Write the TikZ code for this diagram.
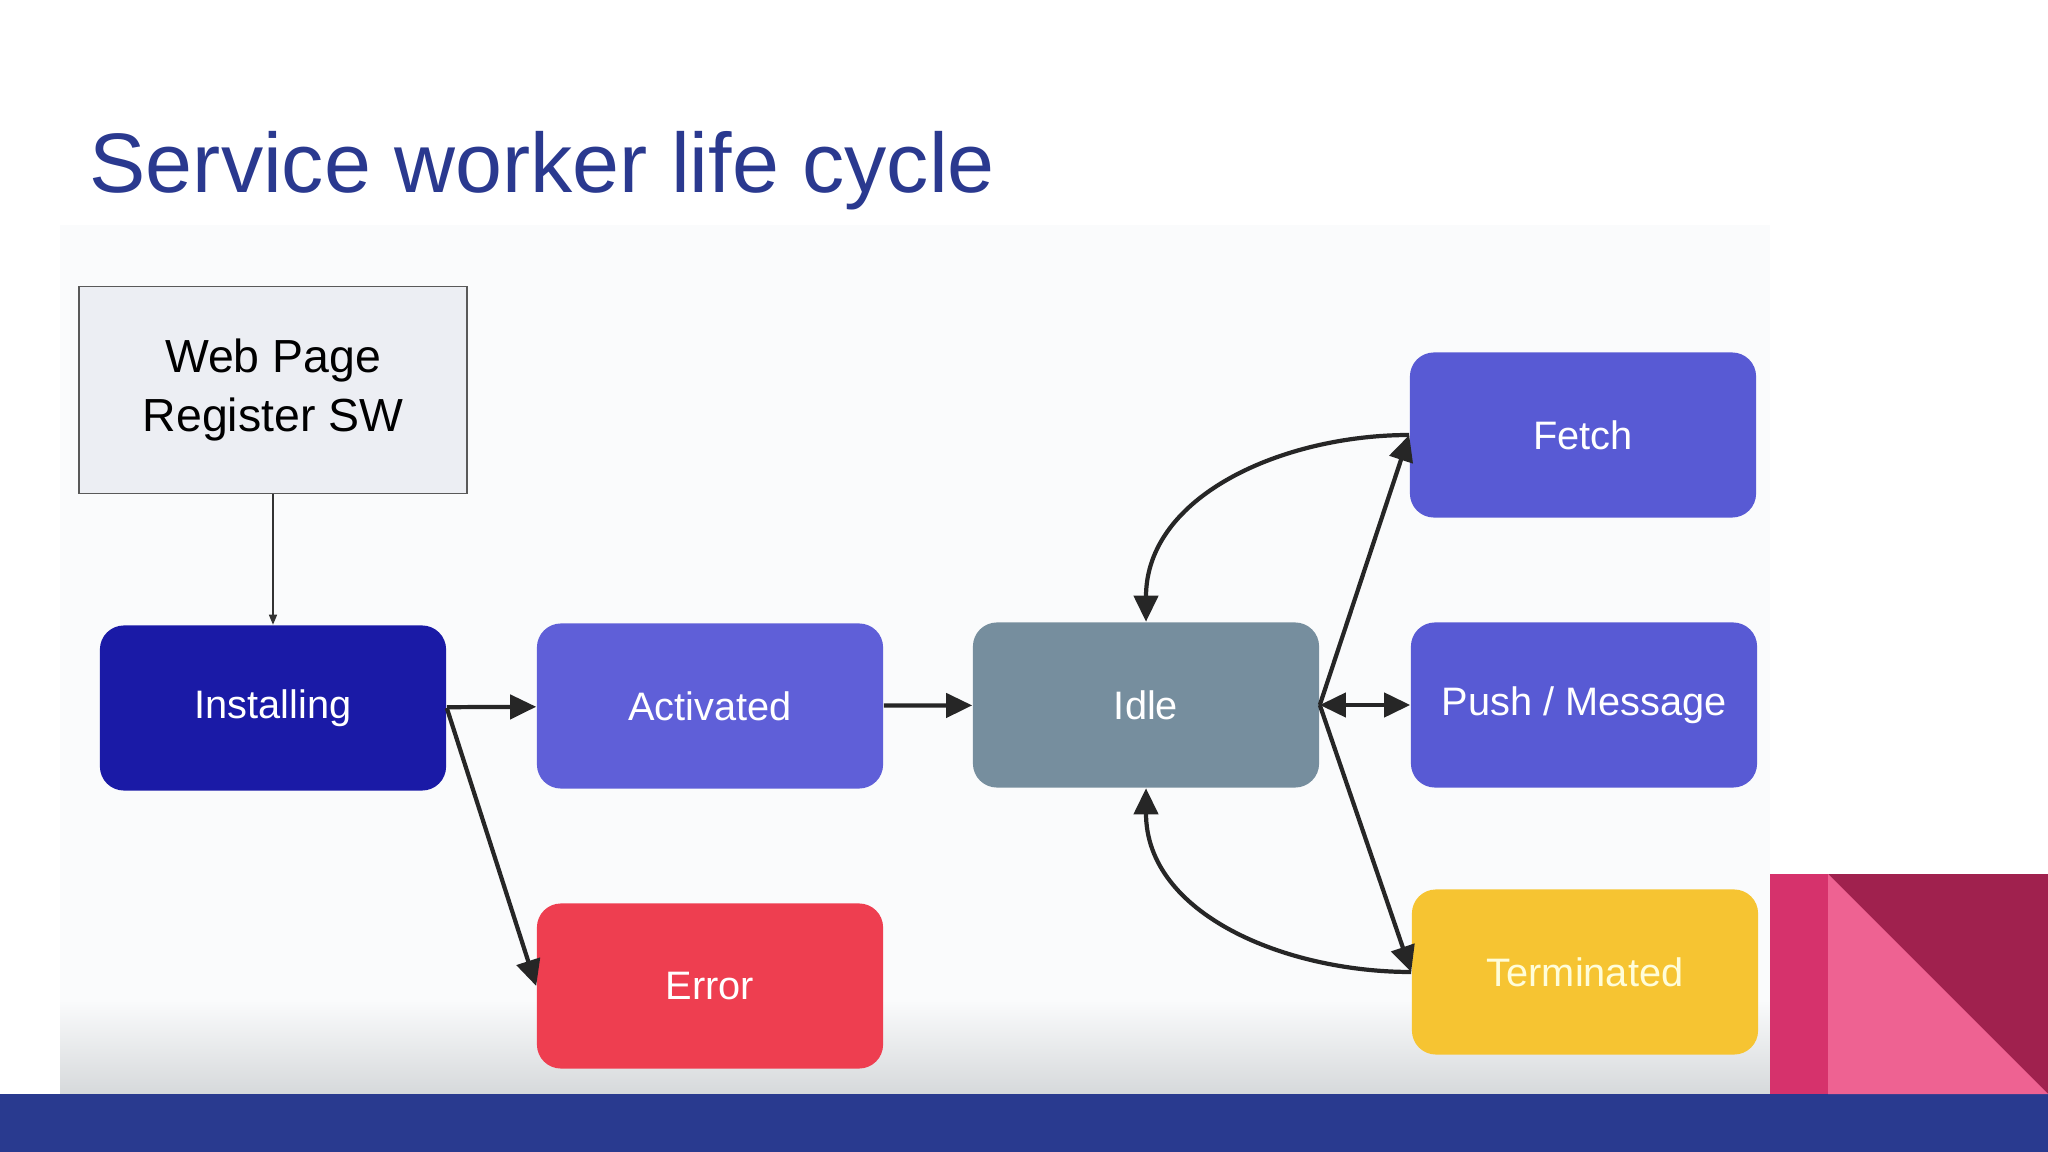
\documentclass[tikz,border=0pt]{standalone}
\usepackage{fontspec}
\setmainfont{Liberation Sans}
\usepackage{tikz}
\usetikzlibrary{arrows.meta,positioning}
\definecolor{cim}{RGB}{42,57,143}
\definecolor{sav}{RGB}{41,58,143}
\definecolor{hatter}{RGB}{250,251,252}
\definecolor{hatteralj}{RGB}{214,217,219}
\definecolor{rozsa}{RGB}{214,50,108}
\definecolor{vrozsa}{RGB}{238,98,146}
\definecolor{bordo}{RGB}{160,33,78}
\definecolor{lap}{RGB}{236,238,243}
\definecolor{telepit}{RGB}{26,26,166}
\definecolor{aktiv}{RGB}{95,95,216}
\definecolor{tetlen}{RGB}{118,142,158}
\definecolor{kek}{RGB}{88,90,212}
\definecolor{sarga}{RGB}{246,196,50}
\definecolor{piros}{RGB}{238,62,80}
\tikzset{
  allapot/.style={rounded corners=2.4mm,minimum width=3.46cm,minimum height=1.65cm,
    text=white,font=\fontsize{11.3}{13}\selectfont},
  nyil/.style={-{Triangle[length=2.6mm,width=2.4mm]},line width=1.2pt,black!85},
  ketnyil/.style={{Triangle[length=2.6mm,width=2.4mm]}-{Triangle[length=2.6mm,width=2.4mm]},
    line width=1.2pt,black!85},
  vekony/.style={-{Triangle[length=1mm,width=0.8mm]},line width=0.4pt,black!80},
}

\begin{document}
\begin{tikzpicture}[x=0.01cm,y=-0.01cm]
  \useasboundingbox (0,0) rectangle (2048,1152);
  \fill[white] (0,0) rectangle (2048,1152);
  % a kepernyokep hattere
  \fill[hatter] (60,225) rectangle (1770,1094);
  \shade[top color=hatter,bottom color=hatteralj] (60,1000) rectangle (1770,1094);
  % also sav es sarok
  \fill[sav] (0,1094) rectangle (2048,1152);
  \fill[rozsa] (1770,874) rectangle (1828,1094);
  \fill[bordo] (1828,874) rectangle (2048,1094);
  \fill[vrozsa] (1828,874) -- (1828,1094) -- (2048,1094) -- cycle;
  \node[anchor=base west,inner sep=0,text=cim,font=\fontsize{24}{28}\selectfont] (cimsor)
    at (89,193) {Service worker life cycle};

  \node[draw=black!65,fill=lap,minimum width=3.88cm,minimum height=2.07cm,align=center,
    font=\fontsize{13.2}{17}\selectfont] (web) at (273,390) {Web Page\\Register SW};
  \node[allapot,fill=telepit] (inst) at (273,708) {Installing};
  \node[allapot,fill=aktiv] (akt) at (710,706) {Activated};
  \node[allapot,fill=tetlen] (idle) at (1146,705) {Idle};
  \node[allapot,fill=kek] (fetch) at (1583,435) {Fetch};
  \node[allapot,fill=kek] (push) at (1584,705) {Push / Message};
  \node[allapot,fill=sarga,text=yellow!15] (term) at (1585,972) {Terminated};
  \node[allapot,fill=piros] (hiba) at (710,986) {Error};

  \draw[vekony] (web) -- (inst);
  \draw[nyil] (inst) -- (akt);
  \draw[nyil] (inst.east) -- (hiba.west);
  \draw[nyil] (akt) -- (idle);
  \draw[nyil] (idle.east) -- (fetch.west);
  \draw[ketnyil] (idle) -- (push);
  \draw[nyil] (idle.east) -- (term.west);
  \draw[nyil] (fetch.west) to[out=180,in=90] (idle.north);
  \draw[nyil] (term.west) to[out=180,in=-90] (idle.south);
\end{tikzpicture}
\end{document}
